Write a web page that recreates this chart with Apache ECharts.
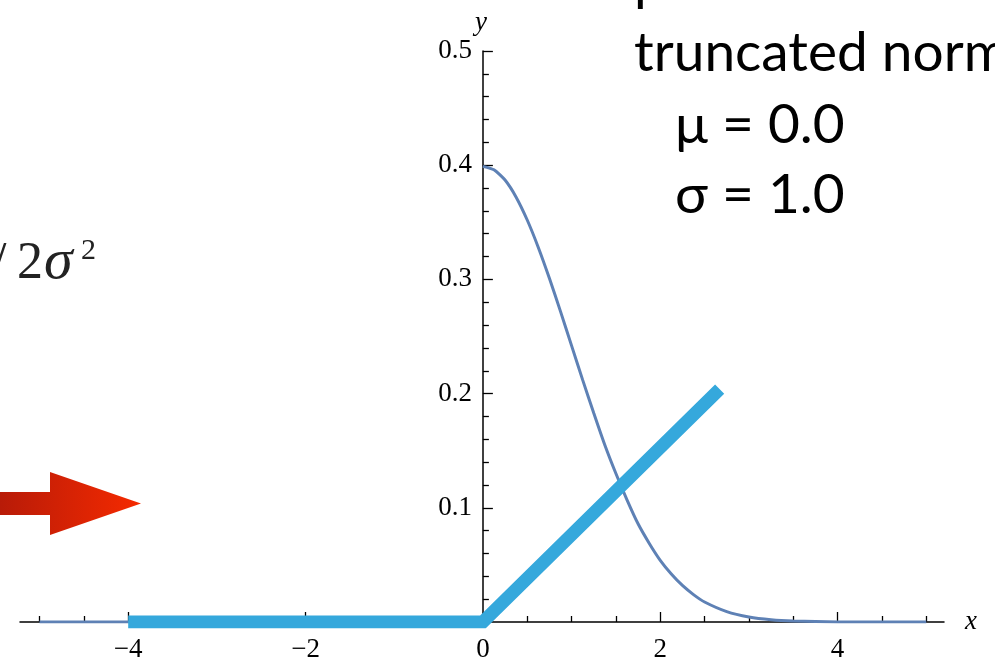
<!DOCTYPE html>
<html>
<head>
<meta charset="utf-8">
<script src="https://cdn.jsdelivr.net/npm/echarts@6/dist/echarts.min.js"></script>
<style>
  html, body { margin: 0; padding: 0; background: #fff; }
  #chart { width: 995px; height: 662px; }
</style>
</head>
<body>
<div id="chart"></div>
<script>
// flat part of the thin curve (left of 0)
const tailX = [-5, 0]
const tailY = [0, 0]
// thin curve, right of 0
const pdfX = [0, 0.125, 0.25, 0.375, 0.5, 0.625, 0.75, 0.875, 1, 1.125, 1.25, 1.375, 1.5, 1.625, 1.75, 1.875,
  2, 2.125, 2.25, 2.375, 2.5, 2.75, 3, 3.25, 3.5, 4, 4.5, 5]
const pdfY = [0.399, 0.396, 0.387, 0.372, 0.352, 0.328, 0.301, 0.272, 0.242, 0.212, 0.183, 0.155, 0.130, 0.107, 0.086, 0.069,
  0.054, 0.042, 0.032, 0.024, 0.0175, 0.0091, 0.0044, 0.0020, 0.0009, 0.0001, 0, 0]
// thick ramp
const rampX = [-4, 0, 2.67]
const rampY = [0, 0, 0.204]

// ticks
const xMajor = [-4, -2, 0, 2, 4]
const xMinor = [-5, -4.5, -3.5, -3, -2.5, -1.5, -1, -0.5, 0.5, 1, 1.5, 2.5, 3, 3.5, 4.5, 5]
const yMajor = [0.1, 0.2, 0.3, 0.4, 0.5]
const yMinor = [0.02, 0.04, 0.06, 0.08, 0.12, 0.14, 0.16, 0.18, 0.22, 0.24, 0.26, 0.28,
  0.32, 0.34, 0.36, 0.38, 0.42, 0.44, 0.46, 0.48]

const serif = '"Liberation Serif", "DejaVu Serif", serif'
const sans = 'Lato, "Noto Sans", sans-serif'

const zip = (xs, ys) => xs.map((x, i) => [x, ys[i]])

const gridLeft = 20
const gridRight = 51
const xMin = -5.22
const xMax = 5.2
const gridWidth = 995 - gridLeft - gridRight
// move the y axis from the grid's left edge to x = 0
const yOffset = -((0 - xMin) / (xMax - xMin) * gridWidth)

const chart = echarts.init(document.getElementById('chart'))

const xBase = {
  type: 'value',
  min: xMin,
  max: xMax,
  position: 'bottom',
  splitLine: {show: false}
}
const yBase = {
  type: 'value',
  min: 0,
  max: 0.5,
  position: 'left',
  offset: yOffset,
  splitLine: {show: false}
}

chart.setOption({
  animation: false,
  grid: {left: gridLeft, right: gridRight, top: 51, bottom: 40, containLabel: false, outerBoundsMode: 'none'},
  xAxis: [
    Object.assign({}, xBase, {
      name: 'x',
      nameLocation: 'end',
      nameGap: 21,
      nameTextStyle: {fontFamily: serif, fontStyle: 'italic', fontSize: 27, color: '#000', padding: [8, 0, 0, 0]},
      axisLine: {show: true, onZero: false, lineStyle: {color: '#000', width: 1.5}},
      axisTick: {show: true, inside: true, length: 10, customValues: xMajor, lineStyle: {color: '#000', width: 1.3}},
      axisLabel: {
        show: true, customValues: xMajor, margin: 14,
        fontFamily: serif, fontSize: 27, color: '#000',
        formatter: v => String(v).replace('-', '\u2212')
      }
    }),
    Object.assign({}, xBase, {
      axisLine: {show: false, onZero: false},
      axisTick: {show: true, inside: true, length: 6, customValues: xMinor, lineStyle: {color: '#000', width: 1.3}},
      axisLabel: {show: false}
    })
  ],
  yAxis: [
    Object.assign({}, yBase, {
      name: 'y',
      nameLocation: 'end',
      nameGap: 15,
      nameTextStyle: {fontFamily: serif, fontStyle: 'italic', fontSize: 27, color: '#000', padding: [0, 4, 0, 0]},
      axisLine: {show: true, onZero: false, lineStyle: {color: '#000', width: 1.5}},
      axisTick: {show: true, inside: true, length: 10, customValues: yMajor, lineStyle: {color: '#000', width: 1.3}},
      axisLabel: {
        show: true, customValues: yMajor, margin: 11,
        fontFamily: serif, fontSize: 27, color: '#000'
      }
    }),
    Object.assign({}, yBase, {
      axisLine: {show: false, onZero: false},
      axisTick: {show: true, inside: true, length: 6, customValues: yMinor, lineStyle: {color: '#000', width: 1.3}},
      axisLabel: {show: false}
    })
  ],
  series: [
    {
      name: 'tail', type: 'line', data: zip(tailX, tailY),
      symbol: 'none', lineStyle: {color: '#5e81b5', width: 3}
    },
    {
      name: 'pdf', type: 'line', data: zip(pdfX, pdfY),
      symbol: 'none', smooth: 0.2, lineStyle: {color: '#5e81b5', width: 3}
    },
    {
      name: 'ramp', type: 'line', data: zip(rampX, rampY),
      symbol: 'none', lineStyle: {color: '#35a8dc', width: 13, cap: 'butt', join: 'miter'}
    }
  ],
  graphic: [
    // red arrow on the left
    {
      type: 'polygon',
      shape: {points: [[0, 492], [50, 492], [50, 472], [141, 503.5], [50, 535], [50, 515], [0, 515]]},
      style: {
        fill: new echarts.graphic.LinearGradient(0, 0, 1, 0, [
          {offset: 0, color: '#b81b08'},
          {offset: 1, color: '#f52a00'}
        ])
      }
    },
    // cut-off formula fragment
    {type: 'text', left: -8, top: 238, style: {text: '/', font: '52px ' + serif, fill: '#222'}},
    {type: 'text', left: 17, top: 238, style: {text: '2', font: '52px ' + serif, fill: '#222'}},
    {type: 'text', left: 44, top: 234, style: {text: 'σ', font: 'italic 58px ' + serif, fill: '#222'}},
    {type: 'text', left: 81, top: 236, style: {text: '2', font: '30px ' + serif, fill: '#222'}},
    // annotation text on the right
    {type: 'text', left: 634, top: -45, style: {text: 'p', font: '55px ' + sans, fill: '#000'}},
    {type: 'text', left: 634, top: 26, style: {text: 'truncated normal', font: '55px ' + sans, fill: '#000'}},
    {type: 'text', left: 675, top: 98, style: {text: 'μ = 0.0', font: '55px ' + sans, fill: '#000'}},
    {type: 'text', left: 675, top: 168, style: {text: 'σ = 1.0', font: '55px ' + sans, fill: '#000'}}
  ]
})

window.onresize = function () {
  chart.resize()
}
</script>
</body>
</html>
